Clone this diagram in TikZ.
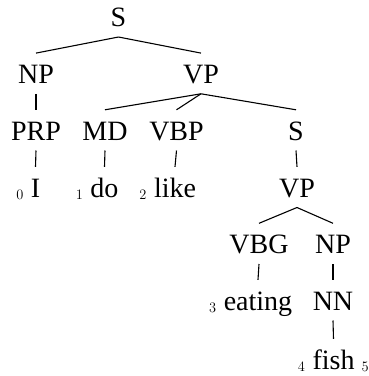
\documentclass[tikz,border=0pt]{standalone}
\usepackage{fontspec}
\setmainfont{Liberation Serif}
\usetikzlibrary{calc}
\newcommand\subnum[1]{\raisebox{-2.5pt}{\fontsize{15}{15}\selectfont$#1$}}
\newcommand\tedge[2]{\draw[br] ($(#1.south)+(0,-10.3pt)$) -- ($(#2.north)+(0,11.7pt)$);}
\begin{document}
\begin{tikzpicture}[x=1pt,y=-1pt,
  cat/.style={anchor=base,inner sep=0pt,text height=18.3pt,text depth=0pt,font=\fontsize{28}{30}\selectfont},
  br/.style={line width=1.1pt}]
\useasboundingbox (0,0) rectangle (369,376);
% row 1
\node[cat] (S) at (118.5,26.5) {S};
% row 2
\node[cat] (NP) at (36,83.3) {NP};
\node[cat] (VP) at (201,83.3) {VP};
% row 3
\node[cat] (PRP) at (36,140) {PRP};
\node[cat] (MD) at (105,140) {MD};
\node[cat] (VBP) at (176.5,140) {VBP};
\node[cat] (S2) at (296,140) {S};
% row 4
\node[cat] (wI) at (35.5,197) {\llap{\subnum{0}\hspace{7.5pt}}I};
\node[cat] (wdo) at (104.5,197) {\llap{\subnum{1}\hspace{7.5pt}}do};
\node[cat] (wlike) at (175,197) {\llap{\subnum{2}\hspace{7.5pt}}like};
\node[cat] (VP2) at (297,197) {VP};
% row 5
\node[cat] (VBG) at (259,253.5) {VBG};
\node[cat] (NP2) at (333,253.5) {NP};
% row 6
\node[cat] (weating) at (258,310) {\llap{\subnum{3}\hspace{7.5pt}}eating};
\node[cat] (NN) at (333,310) {NN};
% row 7
\node[cat] (wfish) at (333.5,369) {\llap{\subnum{4}\hspace{7.5pt}}fish\rlap{\hspace{7pt}\subnum{5}}};
% edges
\tedge{S}{NP}
\tedge{S}{VP}
\tedge{NP}{PRP}
\tedge{VP}{MD}
\tedge{VP}{VBP}
\tedge{VP}{S2}
\tedge{PRP}{wI}
\tedge{MD}{wdo}
\tedge{VBP}{wlike}
\tedge{S2}{VP2}
\tedge{VP2}{VBG}
\tedge{VP2}{NP2}
\tedge{VBG}{weating}
\tedge{NP2}{NN}
\tedge{NN}{wfish}
\end{tikzpicture}
\end{document}
